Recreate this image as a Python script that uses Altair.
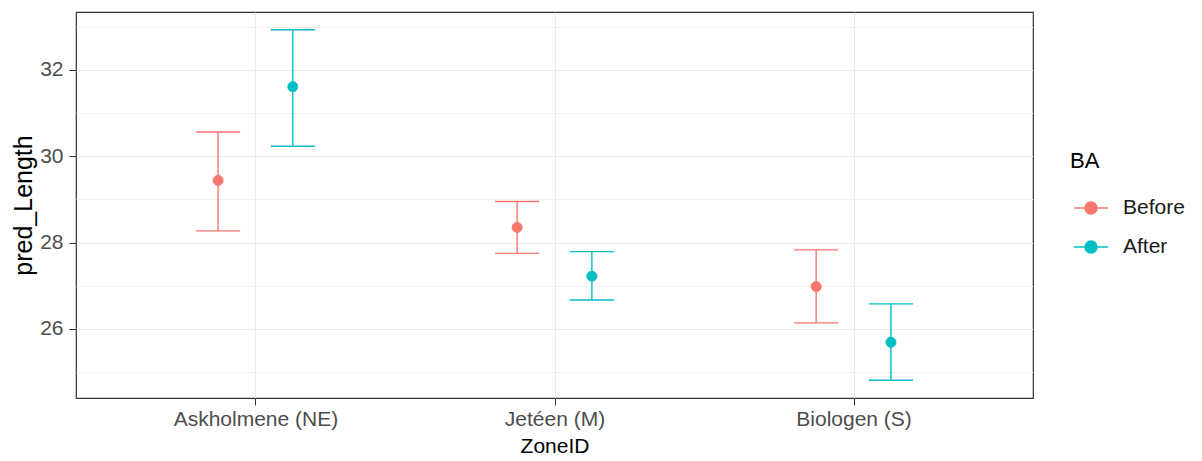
import altair as alt
import pandas as pd

# ---- data ----
zones = ["Askholmene (NE)", "Jetéen (M)", "Biologen (S)"]
groups = ["Before", "After"]
before_mean = [29.44, 28.35, 26.98]
before_lower = [28.27, 27.75, 26.14]
before_upper = [30.56, 28.95, 27.83]
after_mean = [31.61, 27.22, 25.69]
after_lower = [30.23, 26.67, 24.81]
after_upper = [32.93, 27.79, 26.58]
colors = ["#F8766D", "#00BFC4"]
y_tick_values = [25, 26, 27, 28, 29, 30, 31, 32, 33]

DODGE = 0.125   # half of dodge width
CAP = 0.074     # half errorbar cap width

rows = []
for g, means, lows, ups, off in [
    ("Before", before_mean, before_lower, before_upper, -DODGE),
    ("After", after_mean, after_lower, after_upper, DODGE),
]:
    for i, z in enumerate(zones):
        c = i + 1 + off
        rows.append(dict(ZoneID=z, BA=g, pred_Length=means[i], lower=lows[i],
                         upper=ups[i], xpos=c, xlo=c - CAP, xhi=c + CAP))
df = pd.DataFrame(rows)

FONT = "Liberation Sans"
label_js = "[" + ",".join("'" + z + "'" for z in zones) + "]"

xscale = alt.Scale(domain=[0.4, 3.6], nice=False, zero=False)
yscale = alt.Scale(domain=[24.40, 33.34], nice=False, zero=False)

xaxis = alt.Axis(
    title="ZoneID", values=[1, 2, 3],
    labelExpr=label_js + "[datum.value - 1]",
    grid=True, gridColor="#EBEBEB", gridWidth=1,
    domain=False, ticks=True, tickColor="#333333", tickSize=7, tickWidth=1,
    labelFont=FONT, labelFontSize=21, labelColor="#4D4D4D", labelPadding=3,
    titleFont=FONT, titleFontSize=21, titleFontWeight="normal", titleColor="#000000",
    titlePadding=6, labelFlush=False,
)
yaxis = alt.Axis(
    title="pred_Length", values=y_tick_values,
    labelExpr="datum.value % 2 === 0 ? datum.label : ''",
    grid=True,
    gridColor={"condition": {"test": "datum.value % 2 === 0", "value": "#EBEBEB"}, "value": "#F0F0F0"},
    domain=False, ticks=True, tickColor="#333333", tickSize=7, tickWidth=1,
    tickOpacity={"condition": {"test": "datum.value % 2 === 0", "value": 1}, "value": 0},
    labelFont=FONT, labelFontSize=21, labelColor="#4D4D4D", labelPadding=6,
    titleFont=FONT, titleFontSize=25, titleFontWeight="normal", titleColor="#000000",
    titlePadding=3, labelFlush=False,
)

legend_symbol = "M-1,0L1,0M0.35,0A0.35,0.35,0,1,1,-0.35,0A0.35,0.35,0,1,1,0.35,0Z"


def make_legend():
    return alt.Legend(
        title="BA", orient="none", legendX=994, legendY=139,
        titleFont=FONT, titleFontSize=22, titleFontWeight="normal", titleColor="#000000",
        titlePadding=17,
        labelFont=FONT, labelFontSize=21, labelColor="#1A1A1A", labelOffset=14,
        symbolType=legend_symbol, symbolSize=1156, symbolStrokeWidth=1.5,
        symbolOffset=3, symbolOpacity=1, rowPadding=11, padding=0,
    )


cscale = alt.Scale(domain=groups, range=colors)
stroke = alt.Stroke("BA:N", scale=cscale, legend=make_legend(), title="BA")
fill = alt.Fill("BA:N", scale=cscale, legend=make_legend(), title="BA")

base = alt.Chart(df)

bars = base.mark_rule(strokeWidth=1.4).encode(
    x=alt.X("xpos:Q", scale=xscale, axis=xaxis),
    y=alt.Y("lower:Q", scale=yscale, axis=yaxis),
    y2="upper:Q",
    stroke=stroke,
)
cap_hi = base.mark_rule(strokeWidth=1.4).encode(
    x=alt.X("xlo:Q", scale=xscale, axis=xaxis),
    x2="xhi:Q",
    y=alt.Y("upper:Q", scale=yscale, axis=yaxis),
    stroke=stroke,
)
cap_lo = base.mark_rule(strokeWidth=1.4).encode(
    x=alt.X("xlo:Q", scale=xscale, axis=xaxis),
    x2="xhi:Q",
    y=alt.Y("lower:Q", scale=yscale, axis=yaxis),
    stroke=stroke,
)
points = base.mark_point(filled=True, size=100, opacity=1, strokeWidth=1, shape="circle").encode(
    x=alt.X("xpos:Q", scale=xscale, axis=xaxis),
    y=alt.Y("pred_Length:Q", scale=yscale, axis=yaxis),
    fill=fill,
    stroke=stroke,
)

chart = alt.layer(bars, cap_hi, cap_lo, points).properties(
    width=957, height=386,
    autosize=alt.AutoSizeParams(type="none"),
    padding={"left": 76, "top": 12, "right": 169, "bottom": 63},
    background="white",
).configure_view(stroke="#333333", strokeWidth=1.2)

chart.save("out.html", embed_options={"renderer": "svg", "actions": False})
